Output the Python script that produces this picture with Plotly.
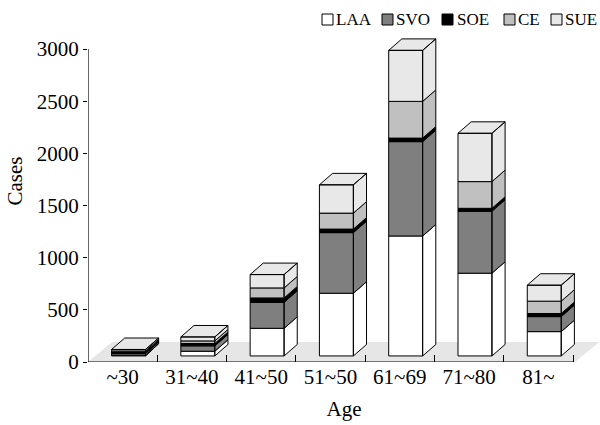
import plotly.graph_objects as go

# ---- data -------------------------------------------------------------
ages = ["~30", "31~40", "41~50", "51~50", "61~69", "71~80", "81~"]
series_names = ["LAA", "SVO", "SOE", "CE", "SUE"]
laa = [8, 45, 265, 601, 1150, 793, 233]
svo = [16, 52, 249, 581, 904, 594, 144]
soe = [14, 22, 42, 34, 34, 28, 30]
ce = [10, 25, 96, 153, 352, 256, 118]
sue = [14, 38, 128, 271, 489, 463, 153]
y_ticks = [0, 500, 1000, 1500, 2000, 2500, 3000]

series_values = [laa, svo, soe, ce, sue]
colors = ["#ffffff", "#7f7f7f", "#000000", "#c0c0c0", "#e8e8e8"]

# ---- geometry of the pseudo-3D drawing (category / value units) ------
BAR_W = 0.49          # front face width
SHIFT_X = 0.085       # bars sit in the middle of the floor depth
BASE_Y = 58
DX, DY = 0.19, 110    # depth offset of a bar
FLOOR_DX, FLOOR_DY = 0.35, 192
FLOOR_RIGHT = 6.53

W, H = 600, 425
M_L, M_R, M_T, M_B = 88, 0, 0, 63
PLOT_W, PLOT_H = W - M_L - M_R, H - M_T - M_B
PX_PER_CAT = 485 / 7
PX_PER_VAL = 313 / 3000
X_RANGE = [-0.5, -0.5 + PLOT_W / PX_PER_CAT]
Y_RANGE = [0, PLOT_H / PX_PER_VAL]

FONT = "Liberation Serif, Times New Roman, serif"

fig = go.Figure()

# floor
fig.add_trace(go.Scatter(
    x=[-0.5, FLOOR_RIGHT, FLOOR_RIGHT + FLOOR_DX, -0.5 + FLOOR_DX, -0.5],
    y=[0, 0, FLOOR_DY, FLOOR_DY, 0],
    mode="lines", fill="toself", fillcolor="#e6e6e6",
    line=dict(width=0, color="#e6e6e6"), hoverinfo="skip", showlegend=False))

# stacked boxes: front face, side face and (for the last series) top face
cum = [0] * len(ages)
for k, (name, vals, col) in enumerate(zip(series_names, series_values, colors)):
    xs, ys = [], []
    for i, v in enumerate(vals):
        b = BASE_Y + cum[i]
        t = b + v
        x0 = i - BAR_W / 2 + SHIFT_X
        x1 = x0 + BAR_W
        xs += [x0, x1, x1, x0, x0, None]
        ys += [b, b, t, t, b, None]
        xs += [x1, x1 + DX, x1 + DX, x1, x1, None]
        ys += [b, b + DY, t + DY, t, b, None]
        if k == len(series_names) - 1:
            xs += [x0, x1, x1 + DX, x0 + DX, x0, None]
            ys += [t, t, t + DY, t + DY, t, None]
        cum[i] += v
    fig.add_trace(go.Scatter(
        x=xs, y=ys, mode="lines", fill="toself", fillcolor=col,
        line=dict(color="black", width=1), name=name,
        hoverinfo="skip", showlegend=False))

# axis lines
fig.add_shape(type="line", x0=-0.5, x1=6.5, y0=0, y1=0,
              line=dict(color="black", width=1.2), layer="above")
fig.add_shape(type="line", x0=-0.5, x1=-0.5, y0=0, y1=3000,
              line=dict(color="black", width=1.2), layer="above")


def px_x(px):
    return (px - M_L) / PLOT_W


def px_y(py):
    return (H - M_B - py) / PLOT_H


# legend
box_left = [322, 382, 442, 504, 551]
text_left = [334, 394, 455, 516, 563]
for name, col, bx, tx in zip(series_names, colors, box_left, text_left):
    fig.add_shape(type="rect", xref="paper", yref="paper",
                  x0=px_x(bx), x1=px_x(bx + 11), y0=px_y(25), y1=px_y(14),
                  fillcolor=col, line=dict(color="black", width=1))
    fig.add_annotation(xref="paper", yref="paper", x=px_x(tx), y=px_y(19.5),
                       text=name, showarrow=False, xanchor="left", yanchor="middle",
                       font=dict(family=FONT, size=17, color="black"))

fig.update_layout(
    width=W, height=H,
    margin=dict(l=M_L, r=M_R, t=M_T, b=M_B),
    paper_bgcolor="white", plot_bgcolor="white",
    font=dict(family=FONT, color="black"),
    xaxis=dict(
        range=X_RANGE, tickmode="array", tickvals=list(range(len(ages))),
        ticktext=ages, ticks="", showline=False, showgrid=False, zeroline=False,
        tickfont=dict(family=FONT, size=21, color="black"),
        minor=dict(tickmode="array", tickvals=[i + 0.5 for i in range(len(ages))],
                   ticks="inside", ticklen=7, tickcolor="black", tickwidth=1,
                   showgrid=False),
        title=dict(text="Age", font=dict(family=FONT, size=21, color="black"),
                   standoff=13)),
    yaxis=dict(
        range=Y_RANGE, tickmode="array", tickvals=y_ticks,
        ticks="outside", ticklen=4, tickcolor="black", tickwidth=1,
        showline=False, showgrid=False, zeroline=False,
        tickfont=dict(family=FONT, size=21, color="black"),
        title=dict(text="Cases", font=dict(family=FONT, size=21, color="black"),
                   standoff=8)),
)

fig.write_html("out.html")
